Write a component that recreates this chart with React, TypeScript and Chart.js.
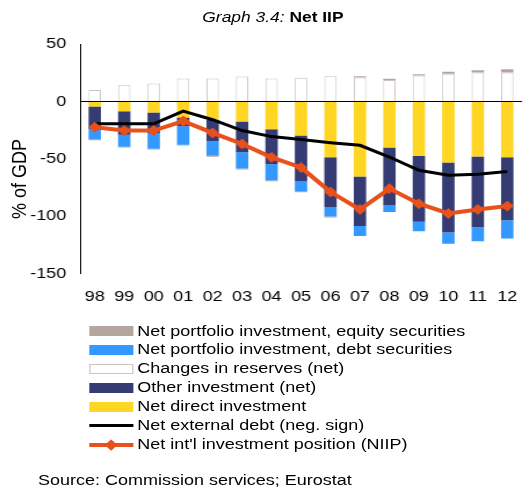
import React, { useEffect, useRef } from 'react';
import { Chart, registerables } from 'chart.js';

Chart.register(...registerables);

const years = ['98', '99', '00', '01', '02', '03', '04', '05', '06', '07', '08', '09', '10', '11', '12'];
const directInv = [-4.4, -8.6, -9.6, -14, -16.1, -17.5, -24.3, -29.8, -48.8, -65.5, -40.1, -47.4, -53.3, -48, -48.8];
const otherInv = [-19.6, -20.4, -18.4, -7.6, -18.7, -26.9, -30.4, -39.5, -43.3, -43, -50.3, -57.6, -60.7, -61.6, -54.7];
const debtSec = [-9.3, -10.5, -13.2, -16.1, -12.6, -14.1, -14, -8.8, -8.2, -8.8, -6.1, -8.2, -10, -12.4, -16];
const reserves = [10, 14, 15.5, 20, 20, 21.6, 20, 20.5, 21.9, 20.7, 18.7, 22.5, 24, 25.1, 25.1];
const equitySec = [-0.6, -0.8, -0.8, -0.8, -0.8, -0.8, -0.8, -1, -0.8, 1.2, 1, 1.2, 1.8, 2, 3];
const extDebt = [-19.6, -19.6, -19.6, -8.5, -16, -25.4, -30.7, -33.3, -36, -38.3, -48.5, -60, -64.3, -63.5, -61.1];
const niip = [-22.5, -25.4, -25.4, -17.2, -27.5, -37.1, -48.8, -57.6, -79, -94.2, -76, -89.2, -97.7, -94.2, -91.2];
const yTicks = [50, 0, -50, -100, -150];

const C_EQUITY = '#B4A69F';
const C_DEBT = '#3399FF';
const C_RES_BORDER = '#CDC3BE';
const C_OTHER = '#353B73';
const C_DIRECT = '#FFD624';
const C_NIIP = '#E8501C';
const FONT = '"Liberation Sans", Arial, sans-serif';
const S = 1.16;
const W = 456;

const legendItems = [
  { label: 'Net portfolio investment, equity securities', kind: 'box', color: C_EQUITY },
  { label: 'Net portfolio investment, debt securities', kind: 'box', color: C_DEBT },
  { label: 'Changes in reserves (net)', kind: 'outline', color: C_RES_BORDER },
  { label: 'Other investment (net)', kind: 'box', color: C_OTHER },
  { label: 'Net direct investment', kind: 'box', color: C_DIRECT },
  { label: 'Net external debt (neg. sign)', kind: 'line', color: '#000000' },
  { label: "Net int'l investment position (NIIP)", kind: 'marker', color: C_NIIP },
];

export default function App() {
  const ref = useRef<HTMLCanvasElement>(null);

  useEffect(() => {
    const barCommon = { stack: 'bars', order: 2, barPercentage: 0.42, categoryPercentage: 1 };
    const chart = new Chart(ref.current as HTMLCanvasElement, {
      type: 'bar',
      data: {
        labels: years,
        datasets: [
          { ...barCommon, label: 'Net direct investment', data: directInv, backgroundColor: C_DIRECT },
          { ...barCommon, label: 'Other investment (net)', data: otherInv, backgroundColor: C_OTHER },
          { ...barCommon, label: 'Net portfolio investment, debt securities', data: debtSec, backgroundColor: C_DEBT },
          {
            ...barCommon,
            label: 'Changes in reserves (net)',
            data: reserves,
            backgroundColor: '#FFFFFF',
            borderColor: C_RES_BORDER,
            borderWidth: 1,
          },
          { ...barCommon, label: 'Net portfolio investment, equity securities', data: equitySec, backgroundColor: C_EQUITY },
          {
            type: 'line',
            label: 'Net external debt (neg. sign)',
            data: extDebt,
            stack: 'l1',
            order: 1,
            borderColor: '#000000',
            borderWidth: 3,
            pointRadius: 0,
            tension: 0,
            fill: false,
          },
          {
            type: 'line',
            label: "Net int'l investment position (NIIP)",
            data: niip,
            stack: 'l2',
            order: 0,
            borderColor: C_NIIP,
            backgroundColor: C_NIIP,
            borderWidth: 4,
            pointStyle: 'rectRot',
            pointRadius: 5,
            pointBorderWidth: 1,
            pointBackgroundColor: C_NIIP,
            pointBorderColor: C_NIIP,
            tension: 0,
            fill: false,
          },
        ] as any,
      },
      options: {
        responsive: false,
        animation: false,
        devicePixelRatio: 1,
        layout: { padding: { top: 14, right: 1, left: 0, bottom: 0 } },
        plugins: { legend: { display: false }, tooltip: { enabled: false }, title: { display: false } },
        scales: {
          x: {
            stacked: true,
            grid: { display: false, drawTicks: false },
            border: { display: false },
            ticks: { color: '#000', font: { family: FONT, size: 15.5 }, padding: 14, maxRotation: 0, autoSkip: false },
            afterFit: (scale: any) => {
              scale.height = 36.5;
              scale.paddingLeft = 0;
              scale.paddingRight = 0;
            },
          },
          y: {
            stacked: true,
            min: -150,
            max: 50,
            afterBuildTicks: (scale: any) => { scale.ticks = yTicks.map((v) => ({ value: v })); },
            grid: {
              drawTicks: false,
              color: (ctx: any) => (ctx.tick && ctx.tick.value === 0 ? '#000000' : 'rgba(0,0,0,0)'),
              lineWidth: 1,
            },
            border: { display: true, color: '#000000', width: 1 },
            ticks: { color: '#000', font: { family: FONT, size: 15.5 }, padding: 12 },
            afterFit: (scale: any) => {
              scale.width = 69;
              scale.paddingTop = 0;
              scale.paddingBottom = 0;
            },
          },
        },
      } as any,
    });
    return () => chart.destroy();
  }, []);

  const rowH = 18.95;
  const legendTop = 331 - rowH / 2;

  return (
    <div style={{ position: 'fixed', left: 0, top: 0, width: 524, height: 488, overflow: 'hidden', background: '#fff' }}>
      <div
        style={{
          position: 'absolute',
          left: 0,
          top: 0,
          width: W,
          height: 488,
          transform: `scaleX(${S})`,
          transformOrigin: '0 0',
          fontFamily: FONT,
          color: '#000',
        }}
      >
        <div
          style={{
            position: 'absolute',
            left: 0,
            width: 470.6,
            top: 8,
            height: 18,
            lineHeight: '18px',
            textAlign: 'center',
            fontSize: 15,
            whiteSpace: 'nowrap',
          }}
        >
          <span style={{ fontStyle: 'italic' }}>Graph 3.4:</span> <span style={{ fontWeight: 'bold' }}>Net IIP</span>
        </div>
        <canvas
          ref={ref}
          width={W}
          height={280}
          style={{ position: 'absolute', left: 0, top: 30, width: W, height: 280 }}
        />
        <div
          style={{
            position: 'absolute',
            left: 15.5,
            top: 178.5,
            transform: 'translate(-50%, -50%) rotate(-90deg)',
            fontSize: 18,
            whiteSpace: 'nowrap',
            lineHeight: '20px',
          }}
        >
          % of GDP
        </div>
        {legendItems.map((it, i) => (
          <div
            key={it.label}
            style={{
              position: 'absolute',
              left: 77,
              top: legendTop + i * rowH,
              height: rowH,
              display: 'flex',
              alignItems: 'center',
              whiteSpace: 'nowrap',
              fontSize: 15.5,
            }}
          >
            <div style={{ position: 'relative', width: 38, height: 10, marginRight: 3.4 }}>
              {it.kind === 'box' && <div style={{ position: 'absolute', inset: 0, background: it.color }} />}
              {it.kind === 'outline' && (
                <div style={{ position: 'absolute', inset: 0, border: `1px solid ${it.color}`, background: '#fff' }} />
              )}
              {it.kind === 'line' && (
                <div style={{ position: 'absolute', left: 0, right: 0, top: 3.5, height: 3, background: it.color }} />
              )}
              {it.kind === 'marker' && (
                <>
                  <div style={{ position: 'absolute', left: 0, right: 0, top: 3, height: 4, background: it.color }} />
                  <div
                    style={{
                      position: 'absolute',
                      left: 19 - 3.8,
                      top: 5 - 3.8,
                      width: 7.6,
                      height: 7.6,
                      background: it.color,
                      transform: 'rotate(45deg)',
                    }}
                  />
                </>
              )}
            </div>
            <span style={{ lineHeight: `${rowH}px` }}>{it.label}</span>
          </div>
        ))}
        <div
          style={{
            position: 'absolute',
            left: 32.8,
            top: 480 - 10,
            height: 20,
            lineHeight: '20px',
            fontSize: 15.5,
            whiteSpace: 'nowrap',
          }}
        >
          Source: Commission services; Eurostat
        </div>
      </div>
    </div>
  );
}
